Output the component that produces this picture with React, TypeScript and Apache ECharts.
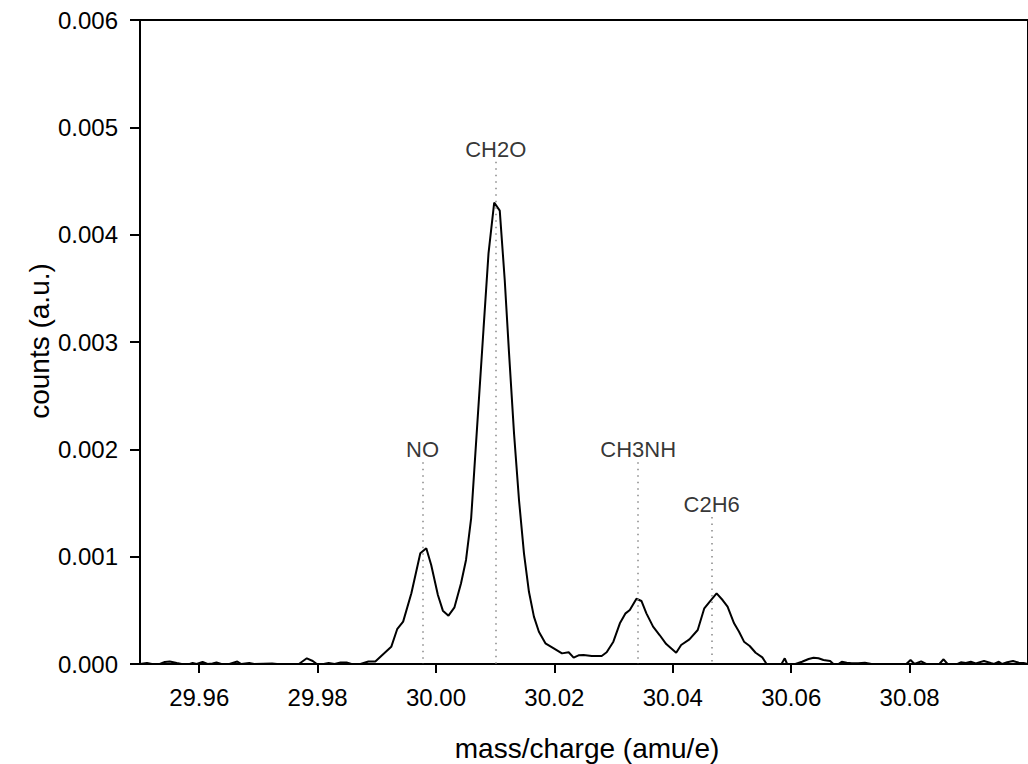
import React, { useEffect, useRef } from "react";
import * as echarts from "echarts";

// mass/charge (amu/e) of each vertex of the trace
const massValues = [
  29.95, 29.95117, 29.95201, 29.95335, 29.95419, 29.95503, 29.95621, 29.95704, 29.95839, 29.95889,
  29.95956, 29.96057, 29.96141, 29.96224, 29.96292, 29.96375, 29.9651, 29.96644, 29.96711, 29.96845,
  29.96929, 29.97231, 29.97315, 29.97684, 29.97818, 29.97918, 29.97986, 29.98103, 29.98187, 29.98287,
  29.98388, 29.98489, 29.98573, 29.98724, 29.98858, 29.98975, 29.99244, 29.99344, 29.99445, 29.99584,
  29.99735, 29.99836, 29.99919, 30.00032, 30.00116, 30.00211, 30.00312, 30.00423, 30.00507, 30.00594,
  30.00647, 30.00803, 30.00887, 30.00983, 30.01077, 30.01161, 30.01234, 30.01318, 30.01402, 30.01486,
  30.0157, 30.01654, 30.01738, 30.01848, 30.01989, 30.02128, 30.02241, 30.02325, 30.02408, 30.02492,
  30.02632, 30.02799, 30.02883, 30.02996, 30.03106, 30.03202, 30.03274, 30.03386, 30.0347, 30.03554,
  30.03667, 30.03777, 30.03889, 30.04057, 30.04141, 30.04281, 30.04421, 30.04532, 30.04645, 30.0474,
  30.04841, 30.04925, 30.05035, 30.05119, 30.05203, 30.05299, 30.05399, 30.05512, 30.05584, 30.05707,
  30.05836, 30.05891, 30.05931, 30.06071, 30.06183, 30.06294, 30.06378, 30.06461, 30.06545, 30.06658,
  30.06713, 30.06797, 30.06854, 30.06938, 30.07022, 30.07132, 30.07244, 30.07357, 30.07944, 30.08016,
  30.08083, 30.08195, 30.08279, 30.08314, 30.08502, 30.08574, 30.08641, 30.08809, 30.08866, 30.0895,
  30.09034, 30.09117, 30.09257, 30.09369, 30.09425, 30.09508, 30.09564, 30.09648, 30.09748, 30.09844,
  30.09928, 30.1,
];

// counts (a.u.) at each vertex
const countValues = [
  0, 0.00001, 0, 0, 0.000019, 0.000023, 0.000009, 0, 0, 0.000009,
  0, 0.000019, 0, 0.000005, 0.000014, 0, 0, 0.000023, 0, 0.000009,
  0, 0.000005, 0, 0, 0.000053, 0.000028, 0, 0, 0.000009, 0,
  0.000014, 0.000014, 0, 0, 0.000023, 0.000023, 0.00016, 0.000324, 0.000395, 0.000659,
  0.001032, 0.001078, 0.000922, 0.000643, 0.000497, 0.00045, 0.000528, 0.000752, 0.000969, 0.00136,
  0.001809, 0.003124, 0.003826, 0.004298, 0.004224, 0.003578, 0.002894, 0.002149, 0.001528, 0.001031,
  0.000673, 0.000441, 0.000301, 0.000193, 0.000146, 0.000099, 0.000109, 0.000059, 0.000081, 0.000084,
  0.000075, 0.000075, 0.000109, 0.000208, 0.000379, 0.000472, 0.000503, 0.000608, 0.000587, 0.000472,
  0.000348, 0.00027, 0.000186, 0.000105, 0.000177, 0.00023, 0.000317, 0.000519, 0.000596, 0.000658,
  0.000596, 0.000534, 0.000379, 0.000301, 0.000208, 0.000168, 0.000105, 0.000062, 0, 0,
  0, 0.000053, 0, 0, 0.000021, 0.000047, 0.000059, 0.000053, 0.000037, 0.000028,
  0, 0, 0.000021, 0.000012, 0.000006, 0.000006, 0.000012, 0, 0, 0.000037,
  0, 0.000025, 0, 0, 0, 0.000044, 0, 0, 0.000016, 0.000009,
  0.000021, 0.000006, 0.000028, 0.000009, 0, 0.000021, 0, 0.000016, 0.000028, 0.000012,
  0.000009, 0,
];

const xTickValues = [29.96, 29.98, 30.0, 30.02, 30.04, 30.06, 30.08];
const yTickLabels = ["0.000", "0.001", "0.002", "0.003", "0.004", "0.005", "0.006"];

const peakNames = ["NO", "CH2O", "CH3NH", "C2H6"];
const peakMasses = [29.99772, 30.0101, 30.03415, 30.04656];
const peakLabelHeights = [0.002, 0.00479, 0.002, 0.001484];
const peakLineTops = [0.00188, 0.00468, 0.00188, 0.00137];

const xTitle = "mass/charge (amu/e)";
const yTitle = "counts (a.u.)";

const FONT = "'Liberation Sans', Arial, Helvetica, sans-serif";

export default function App() {
  const ref = useRef<HTMLDivElement>(null);

  useEffect(() => {
    if (!ref.current) return;
    const chart = echarts.init(ref.current, undefined, { renderer: "svg" });

    const lineData = massValues.map((m, i) => [m, countValues[i]]);
    const markLines = peakMasses.map((m, i) => [
      { coord: [m, peakLineTops[i]] },
      { coord: [m, 0] },
    ]);
    const labelData = peakNames.map((n, i) => ({
      name: n,
      value: [peakMasses[i], peakLabelHeights[i]],
    }));

    chart.setOption({
      animation: false,
      backgroundColor: "#ffffff",
      textStyle: { fontFamily: FONT },
      grid: {
        left: 140,
        right: -6,
        top: 20,
        bottom: 100,
        show: true,
        borderColor: "#000",
        borderWidth: 2,
        backgroundColor: "transparent",
      },
      xAxis: {
        type: "value",
        min: 29.95,
        max: 30.1,
        axisLine: { show: true, onZero: false, lineStyle: { color: "#000", width: 2 } },
        axisTick: {
          show: true,
          customValues: xTickValues,
          length: 9,
          lineStyle: { color: "#000", width: 2 },
        },
        axisLabel: {
          customValues: xTickValues,
          formatter: (v: number) => v.toFixed(2),
          fontSize: 24,
          color: "#000",
          margin: 21,
          fontFamily: FONT,
        },
        splitLine: { show: false },
      },
      yAxis: {
        type: "value",
        min: 0,
        max: 0.006,
        interval: 0.001,
        axisLine: { show: true, lineStyle: { color: "#000", width: 2 } },
        axisTick: { show: true, length: 10, lineStyle: { color: "#000", width: 2 } },
        axisLabel: {
          formatter: (v: number) => yTickLabels[Math.round(v / 0.001)] ?? "",
          fontSize: 24,
          color: "#000",
          margin: 22,
          fontFamily: FONT,
        },
        splitLine: { show: false },
      },
      series: [
        {
          type: "line",
          data: lineData,
          showSymbol: false,
          symbol: "none",
          lineStyle: { color: "#000", width: 2 },
          z: 3,
          markLine: {
            silent: true,
            symbol: ["none", "none"],
            label: { show: false },
            lineStyle: { color: "#888", width: 1.5, type: [1.5, 5] },
            data: markLines,
          },
        },
        {
          type: "scatter",
          data: labelData,
          symbolSize: 1,
          itemStyle: { color: "rgba(0,0,0,0)" },
          label: {
            show: true,
            position: "inside",
            formatter: "{b}",
            fontSize: 22,
            color: "#000",
            textBorderWidth: 0,
            fontFamily: FONT,
          },
          z: 4,
        },
      ],
      graphic: [
        {
          type: "text",
          x: 587,
          y: 748,
          style: {
            text: xTitle,
            font: `28px ${FONT}`,
            fill: "#000",
            textAlign: "center",
            textVerticalAlign: "middle",
          },
        },
        {
          type: "text",
          x: 39,
          y: 341,
          rotation: Math.PI / 2,
          style: {
            text: yTitle,
            font: `28px ${FONT}`,
            fill: "#000",
            textAlign: "center",
            textVerticalAlign: "middle",
          },
        },
      ],
    });

    return () => chart.dispose();
  }, []);

  return (
    <div
      ref={ref}
      style={{ position: "fixed", left: 0, top: 0, width: 1028, height: 764, background: "#fff" }}
    />
  );
}
